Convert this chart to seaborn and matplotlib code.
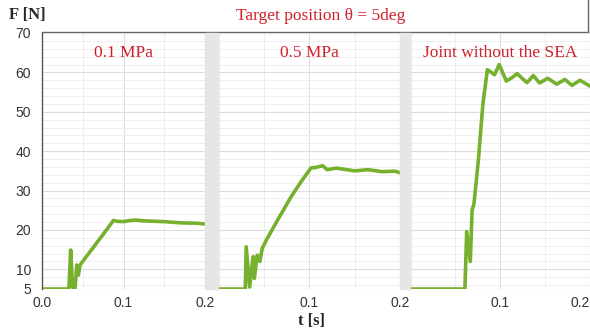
import numpy as np
import seaborn as sns
import matplotlib.pyplot as plt
from matplotlib.patches import Rectangle
from matplotlib.ticker import MultipleLocator

# data (time in s, force in N)
t_01 = [0, 0.033, 0.0352, 0.0375, 0.0405, 0.0426, 0.0446, 0.0467, 0.055, 0.062,
        0.07, 0.078, 0.0876, 0.092, 0.1, 0.108, 0.115, 0.125, 0.15, 0.17, 0.19, 0.2]
F_01 = [5, 5, 14.9, 5.5, 5, 11.1, 8.5, 11.1, 13.4, 15.3,
        17.5, 19.7, 22.4, 22.2, 22.1, 22.4, 22.5, 22.3, 22.1, 21.8, 21.7, 21.5]

t_05 = [0, 0.030, 0.031, 0.0348, 0.0385, 0.040, 0.043, 0.046, 0.0486, 0.0533, 0.065,
        0.08, 0.09, 0.102, 0.108, 0.115, 0.12, 0.13, 0.15, 0.165, 0.18, 0.195, 0.2]
F_05 = [5, 5, 15.7, 5.5, 13.2, 7.7, 13.6, 12, 15.3, 17.5, 22.3,
        28.3, 31.8, 35.7, 35.9, 36.3, 35.3, 35.7, 35.0, 35.3, 34.8, 34.9, 34.5]

t_sea = [0, 0.061, 0.063, 0.067, 0.069, 0.071, 0.076, 0.081, 0.086, 0.094, 0.099,
         0.107, 0.113, 0.119, 0.125, 0.13, 0.137, 0.144, 0.153, 0.163, 0.172, 0.18,
         0.189, 0.2]
F_sea = [5, 5, 19.6, 12, 25, 26.5, 37.8, 52, 60.7, 59.4, 62,
         57.8, 58.6, 59.7, 58.4, 57.4, 59.2, 57.3, 58.5, 57, 58.2, 56.7,
         58, 56.5]

panel_titles = ['0.1 MPa', '0.5 MPa', 'Joint without the SEA']
y_ticks = [5, 10, 20, 30, 40, 50, 60, 70]
x_ticks = [0.0, 0.1, 0.2]

sns.set_style('white')
plt.rcParams['font.family'] = ['Liberation Sans', 'DejaVu Sans']

W, H = 590, 330
fig = plt.figure(figsize=(W / 100, H / 100), dpi=100)

def box(x0, y0, x1, y1):
    return [x0 / W, 1 - y1 / H, (x1 - x0) / W, (y1 - y0) / H]

# gray separator strips
for x0, x1 in [(205, 218), (400, 410)]:
    fig.patches.append(Rectangle((x0 / W, 1 - 289 / H), (x1 - x0) / W, 256 / H,
                                 transform=fig.transFigure, color='#e6e6e6', zorder=0))

# header box
hax = fig.add_axes(box(42, 0, 588, 32))
hax.set_xticks([])
hax.set_yticks([])
for s in ['top', 'left']:
    hax.spines[s].set_visible(False)
for s in ['bottom', 'right']:
    hax.spines[s].set_color('#666666')
    hax.spines[s].set_linewidth(1.0)
hax.text(0.51, 0.5, 'Target position θ = 5deg', ha='center', va='center',
         color='#d0202a', fontsize=12.5, family='Liberation Serif', transform=hax.transAxes)

green = '#77b02e'
frames = [(42, 205), (218, 400), (410, 590)]
series = [(t_01, F_01), (t_05, F_05), (t_sea, F_sea)]

for i, ((x0, x1), (tt, ff), title) in enumerate(zip(frames, series, panel_titles)):
    ax = fig.add_axes(box(x0, 33, x1, 289))
    ax.set_xlim(0, 0.2)
    ax.set_ylim(5, 70)
    ax.xaxis.set_minor_locator(MultipleLocator(0.05))
    ax.yaxis.set_minor_locator(MultipleLocator(2))
    ax.set_xticks(x_ticks)
    ax.set_yticks(y_ticks)
    ax.grid(which='major', color='#dddddd', lw=0.8)
    ax.grid(which='minor', color='#eeeeee', lw=0.7)
    ax.set_axisbelow(True)
    sns.lineplot(x=tt, y=ff, ax=ax, color=green, lw=2.6, sort=False, estimator=None)
    ax.tick_params(length=0, labelsize=10, labelcolor='#333333', pad=5)
    ax.tick_params(axis='y', pad=8)
    if i == 0:
        ax.set_yticklabels([str(v) for v in y_ticks])
        ax.set_xticklabels(['0.0', '0.1', '0.2'])
    else:
        ax.set_yticklabels([])
        ax.set_xticklabels(['', '0.1', '0.2'])
    if i == 2:
        ax.get_xticklabels()[-1].set_horizontalalignment('right')
    for s in ['top', 'right', 'bottom']:
        ax.spines[s].set_visible(False)
    ax.spines['left'].set_color('#555555' if i == 0 else '#aaaaaa')
    ax.spines['left'].set_linewidth(1.0)
    ax.text(0.5, 0.92, title, transform=ax.transAxes, ha='center', va='center',
            color='#d0202a', fontsize=12.5, family='Liberation Serif')

fig.text(27 / W, 1 - 15 / H, 'F [N]', ha='center', va='center', fontsize=12,
         fontweight='bold', family='Liberation Serif')
fig.text(312 / W, 1 - 321 / H, 't [s]', ha='center', va='center', fontsize=12,
         fontweight='bold', family='Liberation Serif')

fig.savefig('out.png', dpi=100)
